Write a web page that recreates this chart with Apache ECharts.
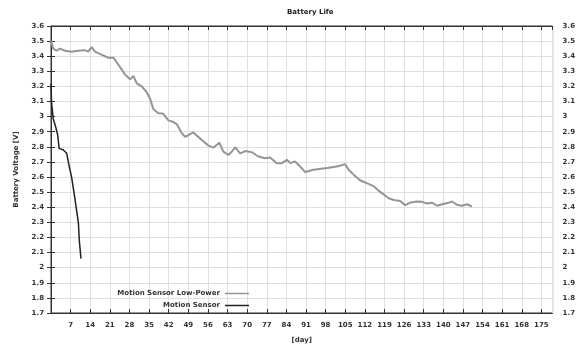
<!DOCTYPE html>
<html>
<head>
<meta charset="utf-8">
<title>Battery Life</title>
<script src="https://cdn.jsdelivr.net/npm/echarts@6/dist/echarts.min.js"></script>
<style>
  html, body { margin: 0; padding: 0; background: #fff; }
  #chart { width: 578px; height: 349px; }
</style>
</head>
<body>
<div id="chart"></div>
<script>
// data
var lowPowerDays = [0, 0.8, 2, 3.2, 5, 7.4, 9.6, 12, 13.3, 14.5, 15.7, 18, 20.5, 22.3, 24, 26.4, 28.2, 29.4, 30.6, 32.4,
  34.2, 35.4, 36.5, 38.3, 40, 41.9, 43.7, 44.9, 46.7, 47.9, 50.8, 53.2, 56.2, 58, 60.1, 61.5, 63.3, 64.5, 65.7, 67.5,
  69.3, 71.7, 74, 76.4, 78.2, 80.6, 82.4, 84.2, 85.4, 87.1, 88.9, 90.7, 93.7, 98.5, 102, 105, 106.2, 108, 110.4, 113.3,
  115.1, 116.9, 118.7, 120.5, 122.3, 124.6, 126.4, 128.2, 130.6, 132.4, 134.2, 136, 137.8, 139.5, 141.9, 143.1, 144.9,
  146.7, 148.5, 150.2]
var lowPowerVolts = [3.50, 3.45, 3.436, 3.45, 3.436, 3.43, 3.436, 3.44, 3.43, 3.46, 3.43, 3.41, 3.39, 3.39, 3.345, 3.28, 3.247, 3.27, 3.22, 3.20,
  3.16, 3.117, 3.05, 3.023, 3.02, 2.975, 2.964, 2.95, 2.89, 2.866, 2.895, 2.855, 2.808, 2.795, 2.827, 2.768, 2.746, 2.768, 2.796, 2.757,
  2.772, 2.764, 2.736, 2.725, 2.73, 2.692, 2.692, 2.714, 2.692, 2.703, 2.67, 2.633, 2.648, 2.66, 2.67, 2.685, 2.648, 2.616, 2.577, 2.555,
  2.54, 2.51, 2.485, 2.46, 2.448, 2.442, 2.414, 2.431, 2.438, 2.436, 2.425, 2.43, 2.41, 2.42, 2.43, 2.438, 2.416,
  2.41, 2.42, 2.405]
var sensorDays = [0, 0.2, 0.8, 1.7, 2.4, 2.9, 4.4, 5.6, 6.4, 7.4, 8.3, 9.5, 9.8, 10.1, 10.7]
var sensorVolts = [3.22, 3.095, 2.986, 2.93, 2.877, 2.79, 2.779, 2.757, 2.68, 2.594, 2.485, 2.333, 2.29, 2.18, 2.06]
var seriesNames = ['Motion Sensor Low-Power', 'Motion Sensor']

function pairs(xs, ys) {
  var out = []
  for (var i = 0; i < xs.length; i++) out.push([xs[i], ys[i]])
  return out
}

var chart = echarts.init(document.getElementById('chart'))

var labelStyle = { fontSize: 7, fontWeight: 'bold', color: '#333', fontFamily: 'DejaVu Sans' }
var gridLine = { show: true, lineStyle: { color: '#e0e0e0', width: 1 } }

var option = {
  animation: false,
  title: {
    text: 'Battery Life',
    left: 282,
    top: 4,
    textStyle: { fontSize: 7, fontWeight: 'bold', color: '#222', fontFamily: 'DejaVu Sans' }
  },
  grid: {
    left: 51, right: 25, top: 26, bottom: 32,
    show: true, borderColor: '#333', borderWidth: 1
  },
  legend: [
    {
      data: [seriesNames[0]], right: 324, top: 285, align: 'right',
      icon: 'rect', itemWidth: 24, itemHeight: 1.5, itemGap: 4,
      textStyle: { fontSize: 7, fontWeight: 'bold', color: '#333', fontFamily: 'DejaVu Sans' }
    },
    {
      data: [seriesNames[1]], right: 324, top: 297, align: 'right',
      icon: 'rect', itemWidth: 24, itemHeight: 1.5, itemGap: 4,
      textStyle: { fontSize: 7, fontWeight: 'bold', color: '#333', fontFamily: 'DejaVu Sans' }
    }
  ],
  xAxis: [
    {
      type: 'value', min: 0, max: 179, interval: 7,
      name: '[day]', nameLocation: 'middle', nameGap: 24,
      nameTextStyle: labelStyle,
      axisLine: { show: true, lineStyle: { color: '#333' } },
      axisTick: { show: true, inside: true, length: 4, lineStyle: { color: '#333' } },
      axisLabel: Object.assign({ margin: 9, showMinLabel: false, showMaxLabel: false }, labelStyle),
      splitLine: gridLine
    },
    {
      type: 'value', min: 0, max: 179, interval: 7, position: 'top',
      axisLine: { show: true, lineStyle: { color: '#333' } },
      axisTick: { show: true, inside: true, length: 4, lineStyle: { color: '#333' } },
      axisLabel: { show: false },
      splitLine: { show: false }
    }
  ],
  yAxis: [
    {
      type: 'value', min: 1.7, max: 3.6, interval: 0.1,
      name: 'Battery Voltage [V]', nameLocation: 'middle', nameGap: 31, nameRotate: 90,
      nameTextStyle: labelStyle,
      axisLine: { show: true, lineStyle: { color: '#333' } },
      axisTick: { show: true, inside: true, length: 4, lineStyle: { color: '#333' } },
      axisLabel: Object.assign({ margin: 7 }, labelStyle),
      splitLine: gridLine
    },
    {
      type: 'value', min: 1.7, max: 3.6, interval: 0.1, position: 'right',
      axisLine: { show: true, lineStyle: { color: '#333' } },
      axisTick: { show: true, inside: true, length: 4, lineStyle: { color: '#333' } },
      axisLabel: Object.assign({ margin: 10 }, labelStyle),
      splitLine: { show: false }
    }
  ],
  series: [
    {
      name: seriesNames[0],
      type: 'line',
      showSymbol: false,
      data: pairs(lowPowerDays, lowPowerVolts),
      lineStyle: { color: '#959595', width: 2 },
      itemStyle: { color: '#959595' }
    },
    {
      name: seriesNames[1],
      type: 'line',
      showSymbol: false,
      data: pairs(sensorDays, sensorVolts),
      lineStyle: { color: '#222', width: 1.5 },
      itemStyle: { color: '#222' }
    }
  ]
}

chart.setOption(option)
window.onresize = function () {
  chart.resize()
}
</script>
</body>
</html>
